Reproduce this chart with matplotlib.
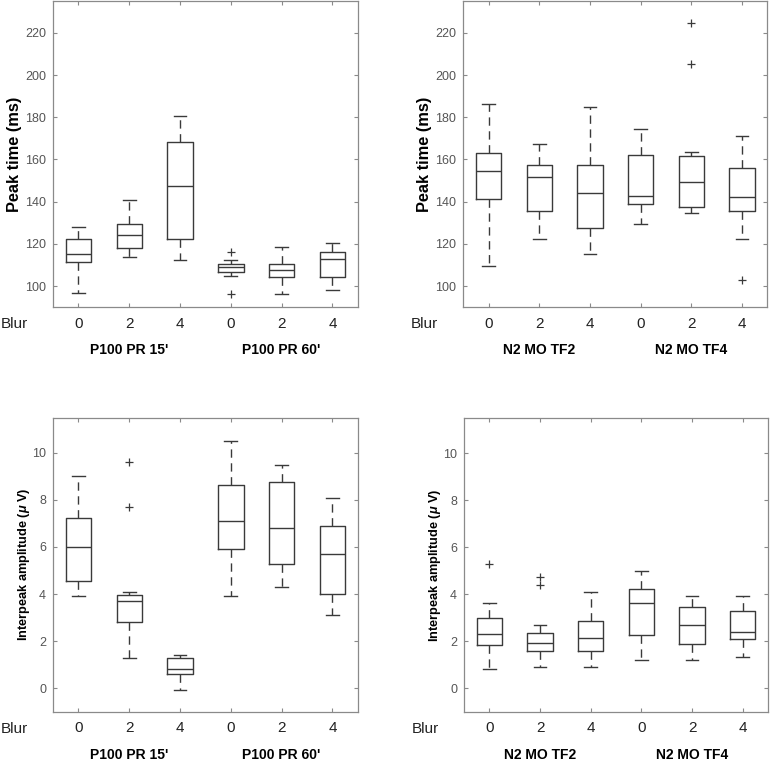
import matplotlib
matplotlib.use("Agg")
import matplotlib.pyplot as plt

plt.rcParams.update({
    "font.family": ["Liberation Sans", "DejaVu Sans"],
    "font.size": 9,
    "mathtext.fontset": "custom",
    "mathtext.it": "Liberation Sans:italic:bold",
    "mathtext.rm": "Liberation Sans:bold",
})

BLUR = ["0", "2", "4", "0", "2", "4"]
GROUPS_P100 = ["P100 PR 15'", "P100 PR 60'"]
GROUPS_N2 = ["N2 MO TF2", "N2 MO TF4"]

# box stats per panel: whislo, q1, med, q3, whishi, outliers
PEAK_P100_LO = [96.9, 113.7, 112.1, 104.9, 96.1, 98.3]
PEAK_P100_Q1 = [111.4, 117.9, 122.4, 106.8, 104.2, 104.5]
PEAK_P100_MED = [115.4, 124.3, 147.3, 109.1, 107.8, 113.0]
PEAK_P100_Q3 = [122.4, 129.2, 168.3, 110.3, 110.6, 115.9]
PEAK_P100_HI = [128.2, 140.9, 180.7, 112.1, 118.6, 120.2]
PEAK_P100_OUT = [[], [], [], [116.2, 96.4], [], []]

PEAK_N2_LO = [109.7, 122.1, 115.4, 129.4, 134.4, 122.5]
PEAK_N2_Q1 = [141.1, 135.5, 127.4, 138.7, 137.3, 135.5]
PEAK_N2_MED = [154.5, 151.7, 144.2, 142.8, 149.5, 142.3]
PEAK_N2_Q3 = [163.1, 157.4, 157.2, 162.0, 161.5, 155.7]
PEAK_N2_HI = [186.2, 167.2, 184.7, 174.4, 163.6, 171.2]
PEAK_N2_OUT = [[], [], [], [], [224.8, 205.1], [102.7]]

AMP_P100_LO = [3.90, 1.30, -0.08, 3.90, 4.31, 3.11]
AMP_P100_Q1 = [4.55, 2.83, 0.61, 5.93, 5.26, 4.00]
AMP_P100_MED = [6.00, 3.71, 0.81, 7.10, 6.80, 5.69]
AMP_P100_Q3 = [7.21, 3.95, 1.30, 8.63, 8.78, 6.90]
AMP_P100_HI = [9.01, 4.10, 1.40, 10.5, 9.49, 8.09]
AMP_P100_OUT = [[], [9.59, 7.71], [], [], [], []]

AMP_N2_LO = [0.81, 0.89, 0.89, 1.21, 1.21, 1.31]
AMP_N2_Q1 = [1.86, 1.58, 1.58, 2.26, 1.89, 2.10]
AMP_N2_MED = [2.32, 1.92, 2.12, 3.61, 2.71, 2.40]
AMP_N2_Q3 = [2.97, 2.34, 2.86, 4.23, 3.44, 3.31]
AMP_N2_HI = [3.61, 2.71, 4.11, 5.00, 3.92, 3.92]
AMP_N2_OUT = [[5.30], [4.74, 4.39], [], [], [], []]

PEAK_TICKS = [100, 120, 140, 160, 180, 200, 220]
AMP_TICKS = [0, 2, 4, 6, 8, 10]

LINE = "#3a3a3a"
SPINE = "#8a8a8a"


def stats(lo, q1, med, q3, hi, out):
    return [dict(whislo=a, q1=b, med=c, q3=d, whishi=e, fliers=f)
            for a, b, c, d, e, f in zip(lo, q1, med, q3, hi, out)]


def panel(fig, rect, st, groups, ylabel, ylsize, ylpad, ylim, yticks):
    ax = fig.add_axes(rect)
    ax.bxp(st, positions=range(1, 7), widths=0.5, capwidths=0.25,
           showfliers=True,
           boxprops=dict(color=LINE, linewidth=1.0),
           medianprops=dict(color=LINE, linewidth=1.0),
           whiskerprops=dict(color=LINE, linewidth=1.0, linestyle=(0, (6, 4))),
           capprops=dict(color=LINE, linewidth=1.0),
           flierprops=dict(marker="+", markeredgecolor=LINE, markersize=6,
                           markeredgewidth=0.9, linestyle="none"))
    ax.set_xlim(0.5, 6.5)
    ax.set_ylim(*ylim)
    ax.set_yticks(yticks)
    ax.set_xticks(range(1, 7), BLUR)
    for s in ax.spines.values():
        s.set_color(SPINE)
        s.set_linewidth(0.9)
    ax.tick_params(direction="in", top=True, right=True, length=3,
                   color=SPINE, width=0.8)
    ax.tick_params(axis="y", labelsize=9, labelcolor="#555555", pad=5)
    ax.tick_params(axis="x", labelsize=11, labelcolor="#222222", pad=7)
    ax.set_ylabel(ylabel, fontsize=ylsize, fontweight="bold", labelpad=ylpad)
    ax.annotate("Blur", xy=(0, 0), xycoords="axes fraction",
                xytext=(-28, -12.5), textcoords="offset points",
                ha="center", va="center", fontsize=11, color="#222222")
    for x, g in zip([2, 5], groups):
        ax.annotate(g, xy=(x, 0), xycoords=ax.get_xaxis_transform(),
                    xytext=(0, -31), textcoords="offset points",
                    ha="center", va="center", fontsize=10, fontweight="bold")
    return ax


fig = plt.figure(figsize=(7.7, 7.64), dpi=100)

panel(fig, [0.0688, 0.598, 0.396, 0.4005],
      stats(PEAK_P100_LO, PEAK_P100_Q1, PEAK_P100_MED, PEAK_P100_Q3, PEAK_P100_HI, PEAK_P100_OUT),
      GROUPS_P100, "Peak time (ms)", 11.8, 2.5, (90, 235), PEAK_TICKS)
panel(fig, [0.6017, 0.598, 0.395, 0.4005],
      stats(PEAK_N2_LO, PEAK_N2_Q1, PEAK_N2_MED, PEAK_N2_Q3, PEAK_N2_HI, PEAK_N2_OUT),
      GROUPS_N2, "Peak time (ms)", 11.8, 2.5, (90, 235), PEAK_TICKS)
panel(fig, [0.0688, 0.0685, 0.396, 0.385],
      stats(AMP_P100_LO, AMP_P100_Q1, AMP_P100_MED, AMP_P100_Q3, AMP_P100_HI, AMP_P100_OUT),
      GROUPS_P100, r"Interpeak amplitude ($\mu$ V)", 9.2, 0, (-1, 11.5), AMP_TICKS)
panel(fig, [0.6026, 0.0685, 0.395, 0.384],
      stats(AMP_N2_LO, AMP_N2_Q1, AMP_N2_MED, AMP_N2_Q3, AMP_N2_HI, AMP_N2_OUT),
      GROUPS_N2, r"Interpeak amplitude ($\mu$ V)", 9.2, 0, (-1, 11.5), AMP_TICKS)

fig.savefig("out.png", dpi=100)
